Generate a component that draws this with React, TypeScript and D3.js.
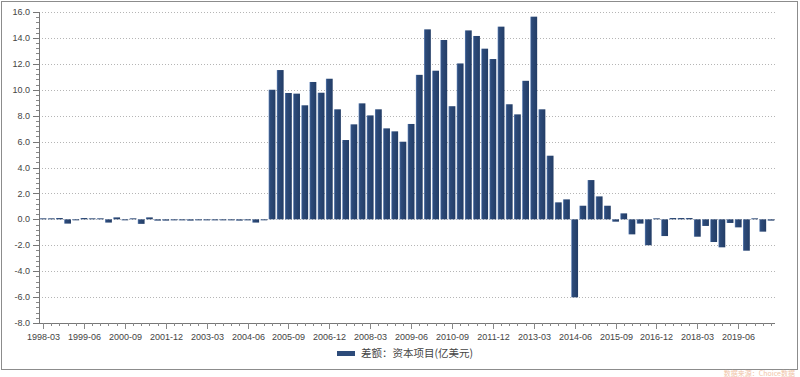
import React from "react";
import * as d3 from "d3";

const startYear = 1998;
const quarterMonths = ["03", "06", "09", "12"];
const categories: string[] = Array.from({ length: 90 }, (_, i) =>
  `${startYear + Math.floor(i / 4)}-${quarterMonths[i % 4]}`
);

const values: number[] = [
  0.05, 0.05, 0.1, -0.33, -0.05, 0.1, 0.05, 0.05, -0.25, 0.15,
  -0.05, 0.05, -0.35, 0.15, -0.1, -0.1, -0.08, -0.08, -0.1, -0.08,
  -0.08, -0.08, -0.08, -0.08, -0.1, -0.08, -0.25, -0.05,
  10.0, 11.52, 9.75, 9.7, 8.8, 10.6, 9.77, 10.85, 8.49, 6.12,
  7.33, 8.95, 8.02, 8.49, 7.02, 6.79, 5.99, 7.36, 11.15, 14.66,
  11.47, 13.84, 8.73, 12.03, 14.58, 14.15, 13.17, 12.37, 14.87, 8.88,
  8.1, 10.69, 15.64, 8.49, 4.91, 1.31, 1.54, -6.02, 1.05, 3.03,
  1.77, 1.05, -0.18, 0.46, -1.16, -0.33, -2.0, 0.03, -1.29, 0.1,
  0.1, 0.1, -1.34, -0.51, -1.75, -2.16, -0.28, -0.62, -2.42, 0.05,
  -0.95, -0.1,
];

const yTicks: number[] = [-8, -6, -4, -2, 0, 2, 4, 6, 8, 10, 12, 14, 16];
const legendLabel = "差额：资本项目(亿美元)";
const sourceLabel = "数据来源：Choice数据";

export default function App() {
  const W = 800;
  const H = 377;
  const left = 39;
  const right = 775;
  const top = 12;
  const bottom = 323;

  const x = d3.scaleBand<string>().domain(categories).range([left, right]).paddingInner(0.17).paddingOuter(0.08);
  const y = d3.scaleLinear().domain([-8, 16]).range([bottom, top]);
  const step = x.step();
  const minorTicks = d3.range(-8, 16.001, 0.4);
  const font = "'Liberation Sans', Arial, sans-serif";

  return (
    <svg width={W} height={H} style={{ position: "absolute", left: 0, top: 0, background: "#fff" }} fontFamily={font}>
      <defs>
        <linearGradient id="barGrad" x1="0" x2="1" y1="0" y2="0">
          <stop offset="0%" stopColor="#5f82b8" />
          <stop offset="18%" stopColor="#2d4b7a" />
          <stop offset="100%" stopColor="#233d66" />
        </linearGradient>
      </defs>
      <rect x={1.5} y={1.5} width={796} height={368} fill="#fff" stroke="#8c8c8c" strokeWidth={1} />
      {yTicks.map((t) => (
        <line key={"g" + t} x1={left} x2={right} y1={Math.round(y(t)) + 0.5} y2={Math.round(y(t)) + 0.5}
          stroke="#b5b5b5" strokeDasharray="1,2" />
      ))}
      {values.map((v, i) => {
        const x0 = x(categories[i])!;
        const y0 = y(Math.max(0, v));
        const h = Math.max(1, Math.abs(y(v) - y(0)));
        return <rect key={i} x={x0} y={v >= 0 ? y(0) - h : y(0)} width={x.bandwidth()} height={h} fill="url(#barGrad)" />;
      })}
      {/* y axis */}
      <line x1={left + 0.5} x2={left + 0.5} y1={top} y2={bottom} stroke="#777" />
      {minorTicks.map((t, k) => (
        <line key={"mt" + k} x1={left - 3} x2={left} y1={Math.round(y(t)) + 0.5} y2={Math.round(y(t)) + 0.5} stroke="#888" />
      ))}
      {yTicks.map((t) => (
        <g key={"yt" + t}>
          <line x1={left - 6} x2={left} y1={Math.round(y(t)) + 0.5} y2={Math.round(y(t)) + 0.5} stroke="#777" />
          <text x={left - 9} y={y(t)} dy="0.35em" textAnchor="end" fontSize={9} fill="#444">{t.toFixed(1)}</text>
        </g>
      ))}
      {/* x axis */}
      <line x1={left} x2={right} y1={bottom + 0.5} y2={bottom + 0.5} stroke="#777" />
      {categories.map((c, i) => {
        const cx = Math.round(x(c)! + x.bandwidth() / 2) + 0.5;
        const major = i % 5 === 0;
        return (
          <g key={"xt" + i}>
            <line x1={cx} x2={cx} y1={bottom} y2={bottom + (major ? 6 : 3)} stroke="#888" />
            {major && (
              <text x={cx} y={bottom + 17} textAnchor="middle" fontSize={9} fill="#444">{c}</text>
            )}
          </g>
        );
      })}
      {/* legend */}
      <rect x={337} y={351} width={18} height={5} fill="#2d4b7a" />
      <text x={361} y={357} fontSize={10.5} fill="#444" fontFamily="'Noto Sans CJK SC', sans-serif">{legendLabel}</text>
      <text x={795} y={376} textAnchor="end" fontSize={7} fill="#f0c4a8" fontFamily="'Noto Sans CJK SC', sans-serif">{sourceLabel}</text>
    </svg>
  );
}
